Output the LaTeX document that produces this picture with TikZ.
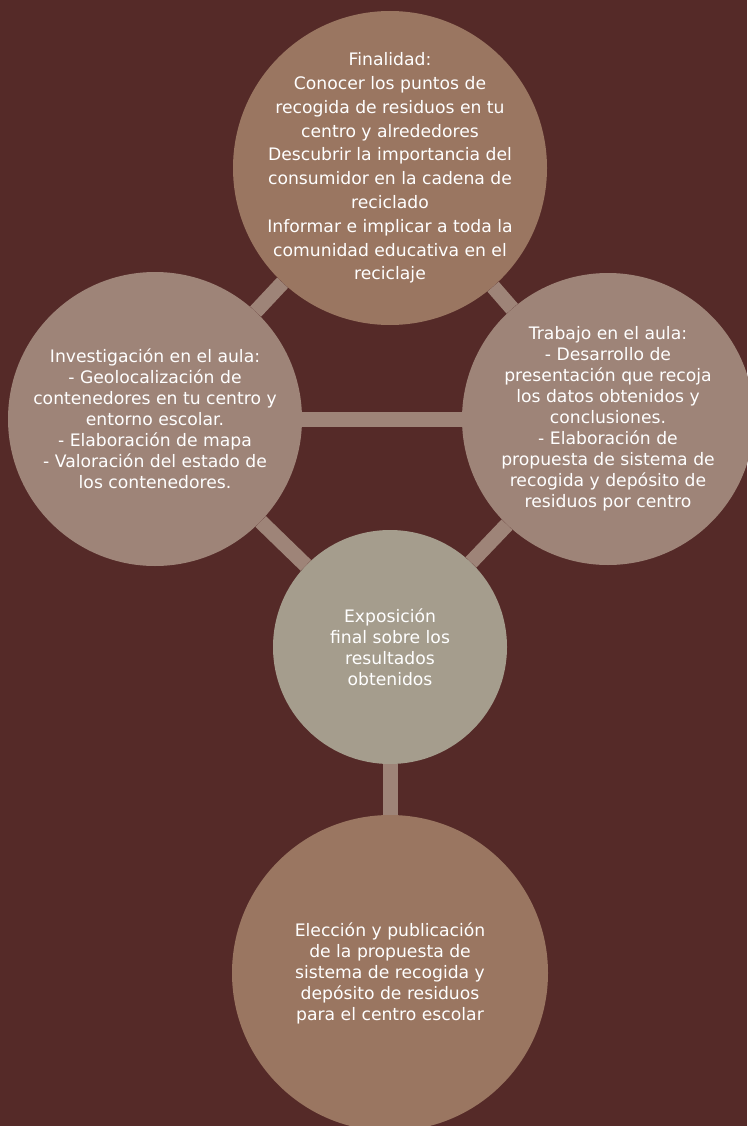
\documentclass[tikz,border=0pt]{standalone}
\usepackage{fontspec}
\setmainfont{DejaVu Sans}
\usetikzlibrary{positioning}

\definecolor{fondo}{RGB}{85,42,40}
\definecolor{marron}{RGB}{154,118,97}
\definecolor{taupe}{RGB}{158,132,120}
\definecolor{gris}{RGB}{165,157,141}

\begin{document}
\begin{tikzpicture}[x=1pt, y=-1pt, font=\fontsize{17.2}{21}\selectfont, text=white]
    \tikzstyle{paso} = [circle, align=center, inner sep=-40pt, draw=none]
    \tikzstyle{enlace} = [line width=15pt, taupe]
    \useasboundingbox (0,0) rectangle (747,1126);
    \fill[fondo] (0,0) rectangle (747,1126);

\node[paso, fill=marron, minimum size=314pt, font=\fontsize{17.2}{23.8}\selectfont] (fin) at (390,168) {Finalidad:\\Conocer los puntos de\\recogida de residuos en tu\\centro y alrededores\\Descubrir la importancia del\\consumidor en la cadena de\\reciclado\\Informar e implicar a toda la\\comunidad educativa en el\\reciclaje};
\node[paso, fill=taupe, minimum size=294pt] (inv) at (155,419) {Investigación en el aula:\\- Geolocalización de\\contenedores en tu centro y\\entorno escolar.\\- Elaboración de mapa\\- Valoración del estado de\\los contenedores.};
\node[paso, fill=taupe, minimum size=292pt] (trab) at (608,419) {Trabajo en el aula:\\- Desarrollo de\\presentación que recoja\\los datos obtenidos y\\conclusiones.\\- Elaboración de\\propuesta de sistema de\\recogida y depósito de\\residuos por centro};
\node[paso, fill=gris, minimum size=234pt] (expo) at (390,647) {Exposición\\final sobre los\\resultados\\obtenidos};
\node[paso, fill=marron, minimum size=316pt] (elec) at (390,973) {Elección y publicación\\de la propuesta de\\sistema de recogida y\\depósito de residuos\\para el centro escolar};

\draw[enlace] (fin) -- (inv);
\draw[enlace] (fin) -- (trab);
\draw[enlace] (inv) -- (trab);
\draw[enlace] (inv) -- (expo);
\draw[enlace] (trab) -- (expo);
\draw[enlace] (expo) -- (elec);
\end{tikzpicture}
\end{document}
